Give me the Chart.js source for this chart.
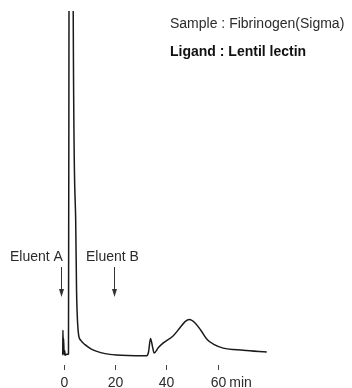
<!DOCTYPE html>
<html>
<head>
<meta charset="utf-8">
<script src="https://cdn.jsdelivr.net/npm/chart.js@4/dist/chart.umd.min.js"></script>
<style>
  html, body { margin: 0; padding: 0; background: #fff; }
  #wrap { width: 352px; height: 388px; }
</style>
</head>
<body>
<div id="wrap"><canvas id="c" width="352" height="388"></canvas></div>
<script>
// Retention time (min)
const times = [-0.7, -0.5, -0.42, -0.3, -0.15, 0.05, 0.25, 0.5, 1.0, 1.75, 1.95, 2.7, 3.6, 4.55, 4.9, 5.6, 6.5, 8.2, 10.5, 12.8, 16, 20.6, 25, 32.3,
               33.0, 33.8, 34.6, 35.2, 36.8, 38.8, 42.7, 45.3, 47.3, 49.0, 51.2, 53.5, 56.0, 58.5, 62.2, 70, 79.2];
// Detector signal (arbitrary units, baseline = 0)
const signal = [0.3, 0.6, 7.4, 2.0, 5.0, 0.2, 1.5, 0.1, 0.4, 0.5, 100, 600, 100, 40, 19, 6.7, 4.5, 3.2, 2.0, 1.25, 0.6, 0.2, 0.05, 0,
                1.0, 5.0, 2.5, 0.8, 2.3, 3.7, 5.8, 8.1, 9.9, 10.5, 9.5, 7.3, 4.6, 3.3, 2.2, 1.6, 1.07];
const xTicks = [0, 20, 40, 60];
const sampleText = 'Sample : Fibrinogen(Sigma)';
const ligandText = 'Ligand : Lentil lectin';
const eluentA = 'Eluent A';
const eluentB = 'Eluent B';
const unitText = 'min';

const FONT = '"Liberation Sans", Arial, Helvetica, sans-serif';

const annot = {
  id: 'annot',
  afterDraw(chart) {
    const ctx = chart.ctx;
    const xs = chart.scales.x;
    const bottom = chart.chartArea.bottom;
    ctx.save();
    // x-axis tick marks and labels
    ctx.strokeStyle = '#444';
    ctx.lineWidth = 1;
    ctx.fillStyle = '#2b2b2b';
    ctx.font = '14px ' + FONT;
    ctx.textBaseline = 'alphabetic';
    ctx.textAlign = 'center';
    xTicks.forEach(v => {
      const px = Math.round(xs.getPixelForValue(v)) + 0.5;
      ctx.beginPath();
      ctx.moveTo(px, bottom);
      ctx.lineTo(px, bottom + 5);
      ctx.stroke();
      ctx.fillText(String(v), px, bottom + 22);
    });
    ctx.textAlign = 'left';
    const last = xTicks[xTicks.length - 1];
    const pl = xs.getPixelForValue(last);
    const wl = ctx.measureText(String(last)).width;
    ctx.fillText(unitText, pl + wl / 2 + ctx.measureText(' ').width, bottom + 22);

    ctx.fillText(sampleText, 170, 28);
    ctx.fillStyle = '#111';
    ctx.font = 'bold 14px ' + FONT;
    ctx.fillText(ligandText, 170, 56);
    ctx.fillStyle = '#2b2b2b';
    ctx.font = '14px ' + FONT;
    ctx.fillText(eluentA, 10, 261);
    ctx.fillText(eluentB, 86, 261);
    // arrows
    function arrow(x, y0, y1) {
      ctx.strokeStyle = '#333';
      ctx.fillStyle = '#333';
      ctx.lineWidth = 1;
      ctx.beginPath();
      ctx.moveTo(x, y0);
      ctx.lineTo(x, y1 - 6);
      ctx.stroke();
      ctx.beginPath();
      ctx.moveTo(x - 2.5, y1 - 8);
      ctx.lineTo(x + 2.5, y1 - 8);
      ctx.lineTo(x, y1);
      ctx.closePath();
      ctx.fill();
    }
    arrow(61.5, 267, 297);
    arrow(114.5, 267, 297);
    ctx.restore();
  }
};

new Chart(document.getElementById('c'), {
  type: 'line',
  data: {
    datasets: [{
      data: times.map((t, i) => ({ x: t, y: signal[i] })),
      borderColor: '#1a1a1a',
      borderWidth: 1.5,
      pointRadius: 0,
      fill: false,
      cubicInterpolationMode: 'monotone'
    }]
  },
  options: {
    responsive: false,
    animation: false,
    events: [],
    layout: { padding: { top: 11, left: 0, right: 0, bottom: 23 } },
    plugins: { legend: { display: false }, tooltip: { enabled: false } },
    scales: {
      x: {
        type: 'linear',
        display: false,
        min: -25,
        max: 112.5
      },
      y: {
        display: false,
        min: -2.7,
        max: 100
      }
    }
  },
  plugins: [annot]
});
</script>
</body>
</html>
